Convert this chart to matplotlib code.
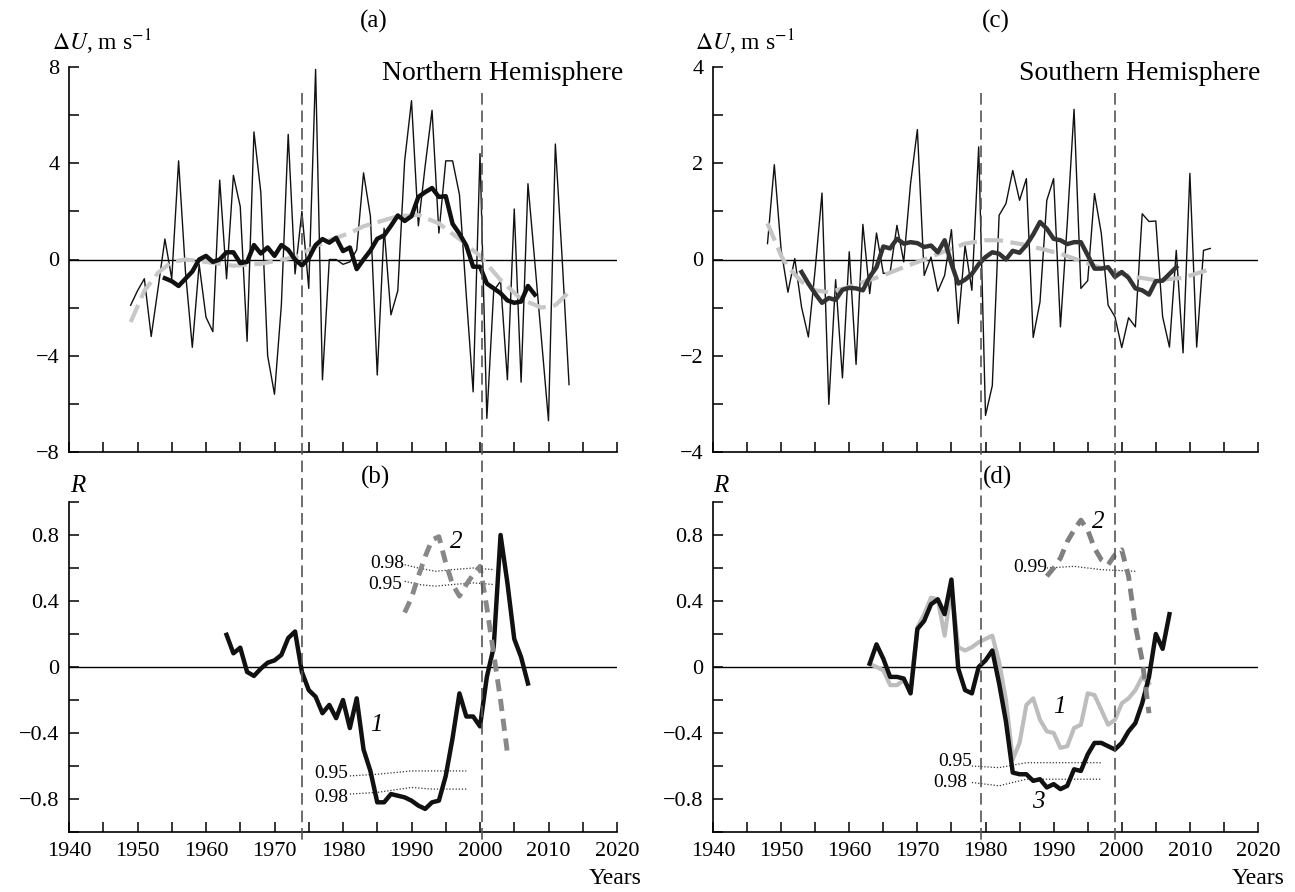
import numpy as np
import matplotlib
matplotlib.use("Agg")
import matplotlib.pyplot as plt
import matplotlib.transforms as mtransforms
from matplotlib.lines import Line2D
from matplotlib.ticker import MultipleLocator, FuncFormatter

plt.rcParams['font.family'] = ['Liberation Serif', 'DejaVu Serif']
plt.rcParams['mathtext.fontset'] = 'stix'

# ---- (a) Northern Hemisphere, dU (m/s)
nh_years = np.arange(1949, 2014)
nh_du = [-1.9, -1.3, -0.8, -3.2, -1.2, 0.85, -0.8, 4.1, -0.5, -3.65,
         -0.2, -2.4, -3.0, 3.3, -0.8, 3.5, 2.2, -3.4, 5.3, 2.8,
         -4.0, -5.6, -1.9, 5.2, -0.6, 2.0, -1.2, 7.9, -5.0, 0.0,
         0.0, -0.2, -0.1, 0.4, 3.6, 1.8, -4.8, 1.3, -2.3, -1.3,
         4.1, 6.6, 1.4, 3.9, 6.2, 1.1, 4.1, 4.1, 2.7, -1.5,
         -5.5, 4.4, -6.6, -1.3, -0.9, -5.0, 2.1, -5.1, 3.15, -0.1,
         -3.4, -6.7, 4.8, 0.0, -5.2]
nh_mean_years = np.arange(1954, 2009)
nh_mean = [-0.78, -0.9, -1.1, -0.8, -0.5, 0.0, 0.15, -0.1, 0.0, 0.3,
           0.3, -0.15, -0.1, 0.6, 0.25, 0.5, 0.15, 0.6, 0.4, 0.0,
           -0.25, 0.05, 0.6, 0.85, 0.7, 0.9, 0.35, 0.5, -0.4, 0.0,
           0.37, 0.86, 1.0, 1.4, 1.83, 1.6, 1.8, 2.6, 2.8, 2.97,
           2.6, 2.63, 1.48, 1.07, 0.58, -0.3, -0.3, -1.0, -1.2, -1.4,
           -1.7, -1.8, -1.75, -1.1, -1.46]
nh_fit_years = [1949, 1951, 1953, 1955, 1957, 1960, 1964, 1968, 1973, 1976,
                1978, 1981, 1983, 1988, 1991, 1994, 1997, 2000, 2003, 2006,
                2009, 2011, 2013]
nh_fit = [-2.6, -1.3, -0.55, -0.1, 0.0, -0.1, -0.26, -0.18, 0.1, 0.55,
          0.8, 1.1, 1.38, 1.8, 1.85, 1.5, 0.85, 0.15, -0.85, -1.65,
          -2.0, -1.9, -1.35]

# ---- (b) correlation R, NH
b_years1 = np.arange(1963, 2008)
b_r1 = [0.195, 0.083, 0.117, -0.03, -0.054, -0.01, 0.026, 0.04, 0.073, 0.175,
        0.215, -0.03, -0.14, -0.18, -0.28, -0.23, -0.31, -0.2, -0.37, -0.19,
        -0.5, -0.63, -0.82, -0.82, -0.77, -0.78, -0.79, -0.81, -0.84, -0.86,
        -0.82, -0.81, -0.66, -0.43, -0.16, -0.3, -0.3, -0.36, -0.06, 0.12,
        0.80, 0.51, 0.17, 0.06, -0.1]
b_years2 = np.arange(1989, 2005)
b_r2 = [0.33, 0.42, 0.55, 0.67, 0.77, 0.79, 0.63, 0.5, 0.43, 0.5,
        0.56, 0.61, 0.36, 0.08, -0.2, -0.52]
b_sig_up_years = [1989, 1991, 1993.5, 1996, 1999, 2002]
b_sig98_up = [0.62, 0.60, 0.58, 0.59, 0.60, 0.59]
b_sig95_up = [0.52, 0.50, 0.49, 0.50, 0.51, 0.50]
b_sig_lo_years = [1981, 1985, 1990, 1993, 1998]
b_sig95_lo = [-0.66, -0.65, -0.63, -0.63, -0.63]
b_sig98_lo = [-0.77, -0.76, -0.73, -0.74, -0.74]

# ---- (c) Southern Hemisphere, dU (m/s)
sh_years = np.arange(1948, 2014)
sh_du = [0.33, 1.97, 0.2, -0.68, 0.02, -0.99, -1.61, -0.2, 1.38, -3.01,
         -0.42, -2.46, 0.16, -2.18, 0.73, -0.71, 0.55, -0.29, -0.27, 0.71,
         -0.05, 1.58, 2.70, -0.33, 0.05, -0.66, -0.33, 0.62, -1.33, 0.29,
         -0.64, 2.34, -3.24, -2.62, 0.92, 1.16, 1.85, 1.23, 1.68, -1.62,
         -0.88, 1.23, 1.68, -1.4, 0.75, 3.12, -0.6, -0.44, 1.37, 0.54,
         -0.95, -1.19, -1.83, -1.21, -1.4, 0.95, 0.79, 0.80, -1.19, -1.82,
         0.19, -1.94, 1.79, -1.82, 0.19, 0.23]
sh_mean_years = np.arange(1953, 2009)
sh_mean = [-0.26, -0.5, -0.71, -0.9, -0.8, -0.84, -0.63, -0.59, -0.6, -0.64,
           -0.36, -0.16, 0.27, 0.23, 0.43, 0.33, 0.36, 0.34, 0.26, 0.29,
           0.15, 0.40, -0.09, -0.5, -0.42, -0.3, -0.1, 0.05, 0.15, 0.12,
           0.0, 0.18, 0.14, 0.30, 0.52, 0.78, 0.64, 0.43, 0.40, 0.32,
           0.36, 0.36, 0.09, -0.19, -0.19, -0.16, -0.36, -0.26, -0.38, -0.6,
           -0.64, -0.73, -0.45, -0.44, -0.3, -0.16]
sh_fit_years = [1948, 1950, 1951, 1953, 1955, 1957, 1960, 1962, 1965, 1968,
                1971, 1974, 1977, 1980, 1982, 1986, 1991, 1996, 2001, 2005,
                2009, 2013]
sh_fit = [0.75, 0.08, -0.16, -0.46, -0.64, -0.68, -0.57, -0.47, -0.33, -0.16,
          0.0, 0.17, 0.33, 0.40, 0.40, 0.30, 0.12, -0.13, -0.34, -0.43,
          -0.38, -0.2]

# ---- (d) correlation R, SH
d_years3 = np.arange(1963, 2008)
d_r3 = [0.02, 0.137, 0.05, -0.06, -0.06, -0.07, -0.16, 0.23, 0.28, 0.38,
        0.41, 0.32, 0.53, -0.01, -0.14, -0.16, 0.0, 0.04, 0.1, -0.1,
        -0.33, -0.64, -0.65, -0.65, -0.69, -0.68, -0.73, -0.71, -0.74, -0.72,
        -0.62, -0.63, -0.53, -0.46, -0.46, -0.48, -0.50, -0.46, -0.39, -0.34,
        -0.22, -0.06, 0.20, 0.11, 0.32]
d_years1 = np.arange(1963, 2005)
d_r1 = [0.02, 0.0, -0.02, -0.11, -0.11, -0.08, -0.14, 0.24, 0.32, 0.42,
        0.41, 0.19, 0.48, 0.12, 0.10, 0.12, 0.15, 0.17, 0.19, 0.03,
        -0.2, -0.56, -0.46, -0.23, -0.19, -0.32, -0.39, -0.4, -0.49, -0.48,
        -0.37, -0.35, -0.16, -0.17, -0.26, -0.35, -0.32, -0.22, -0.19, -0.14,
        -0.06, -0.1]
d_years2 = np.arange(1989, 2005)
d_r2 = [0.55, 0.60, 0.66, 0.76, 0.83, 0.89, 0.83, 0.72, 0.65, 0.62,
        0.68, 0.71, 0.55, 0.25, 0.04, -0.28]
d_sig99_years = [1989, 1993, 1997, 2002]
d_sig99 = [0.60, 0.61, 0.59, 0.58]
d_sig95_years = [1978, 1982, 1986, 1997]
d_sig95 = [-0.60, -0.61, -0.58, -0.58]
d_sig98_years = [1978, 1982, 1986, 1991, 1997]
d_sig98 = [-0.70, -0.72, -0.68, -0.68, -0.68]

W, H = 1295, 892
fig = plt.figure(figsize=(W / 100, H / 100), dpi=100)


def px_axes(x0, x1, ytop, ybot):
    return fig.add_axes([x0 / W, 1 - ybot / H, (x1 - x0) / W, (ybot - ytop) / H])


def fmt(v, pos):
    if abs(v) < 1e-9:
        return "0"
    return f"{v:g}".replace("-", "\u2212")


def style(ax, ylim, major, minor, xlabels):
    ax.set_xlim(1940, 2020)
    ax.set_ylim(*ylim)
    for s in ("top", "right"):
        ax.spines[s].set_visible(False)
    for s in ("left", "bottom"):
        ax.spines[s].set_linewidth(1.2)
    ax.xaxis.set_major_locator(MultipleLocator(10))
    ax.xaxis.set_minor_locator(MultipleLocator(5))
    ax.yaxis.set_major_locator(MultipleLocator(major))
    ax.yaxis.set_minor_locator(MultipleLocator(minor))
    ax.yaxis.set_major_formatter(FuncFormatter(fmt))
    ax.tick_params(which="both", direction="in", length=7, width=1.1,
                   labelsize=16, pad=7)
    if not xlabels:
        ax.tick_params(axis="x", labelbottom=False)
    ax.axhline(0, color="k", lw=1, zorder=1)


ax_a = px_axes(69, 617, 67, 452)
ax_b = px_axes(69, 617, 502, 832)
ax_c = px_axes(713, 1258, 67, 452)
ax_d = px_axes(713, 1258, 502, 832)

style(ax_a, (-8, 8), 4, 2, False)
style(ax_b, (-1, 1), 0.4, 0.2, True)
style(ax_c, (-4, 4), 2, 1, False)
style(ax_d, (-1, 1), 0.4, 0.2, True)

# (a)
ax_a.plot(nh_years, nh_du, color="#111111", lw=1.0, zorder=2)
ax_a.plot(nh_fit_years, nh_fit, color="#c8c8c8", lw=3, dashes=(4.5, 1.8), zorder=3)
ax_a.plot(nh_mean_years, nh_mean, color="#111111", lw=3.2, zorder=4)

# (c)
ax_c.plot(sh_years, sh_du, color="#111111", lw=1.0, zorder=2)
ax_c.plot(sh_fit_years, sh_fit, color="#c4c4c4", lw=3, dashes=(4.5, 1.8), zorder=3)
ax_c.plot(sh_mean_years, sh_mean, color="#333333", lw=3.2, zorder=4)

# (b)
dot = dict(color="#333333", lw=0.9, linestyle=(0, (1, 1.5)), zorder=2)
ax_b.plot(b_sig_up_years, b_sig98_up, **dot)
ax_b.plot(b_sig_up_years, b_sig95_up, **dot)
ax_b.plot(b_sig_lo_years, b_sig95_lo, **dot)
ax_b.plot(b_sig_lo_years, b_sig98_lo, **dot)
ax_b.plot(b_years1, b_r1, color="#111111", lw=3.2, zorder=4)
ax_b.plot(b_years2, b_r2, color="#888888", lw=3.5, dashes=(2.5, 1.6), zorder=5)
ax_b.text(1989.0, 0.63, "0.98", ha="right", va="center", fontsize=14)
ax_b.text(1988.6, 0.50, "0.95", ha="right", va="center", fontsize=14)
ax_b.text(1980.7, -0.645, "0.95", ha="right", va="center", fontsize=14)
ax_b.text(1980.7, -0.79, "0.98", ha="right", va="center", fontsize=14)
ax_b.text(1984.9, -0.35, "1", style="italic", ha="center", va="center", fontsize=18)
ax_b.text(1996.6, 0.76, "2", style="italic", ha="center", va="center", fontsize=18)

# (d)
ax_d.plot(d_sig99_years, d_sig99, **dot)
ax_d.plot(d_sig95_years, d_sig95, **dot)
ax_d.plot(d_sig98_years, d_sig98, **dot)
ax_d.plot(d_years1, d_r1, color="#bdbdbd", lw=3, zorder=3)
ax_d.plot(d_years3, d_r3, color="#111111", lw=3.2, zorder=4)
ax_d.plot(d_years2, d_r2, color="#808080", lw=3.5, dashes=(2.5, 1.6), zorder=5)
ax_d.text(1989.0, 0.60, "0.99", ha="right", va="center", fontsize=14)
ax_d.text(1978.0, -0.57, "0.95", ha="right", va="center", fontsize=14)
ax_d.text(1977.3, -0.70, "0.98", ha="right", va="center", fontsize=14)
ax_d.text(1990.9, -0.24, "1", style="italic", ha="center", va="center", fontsize=18)
ax_d.text(1996.5, 0.88, "2", style="italic", ha="center", va="center", fontsize=18)
ax_d.text(1987.7, -0.82, "3", style="italic", ha="center", va="center", fontsize=18)

# vertical dashed markers crossing both panels
for ax, yr in ((ax_b, 1974.0), (ax_b, 2000.3), (ax_d, 1979.3), (ax_d, 1999.0)):
    tr = mtransforms.blended_transform_factory(ax.transData, fig.transFigure)
    fig.add_artist(Line2D([yr, yr], [1 - 93 / H, 1 - 842 / H], transform=tr,
                          color="#555555", lw=1.2, dashes=(7, 3.5)))


def ftext(x, y, s, **kw):
    fig.text(x / W, 1 - y / H, s, **kw)


ftext(374, 21, "(a)", ha="center", va="center", fontsize=18)
ftext(996, 21, "(c)", ha="center", va="center", fontsize=18)
ftext(376, 477, "(b)", ha="center", va="center", fontsize=18)
ftext(997, 477, "(d)", ha="center", va="center", fontsize=18)
ftext(52, 42, r"$\Delta U$, m s$^{-1}$", ha="left", va="center", fontsize=17)
ftext(695, 42, r"$\Delta U$, m s$^{-1}$", ha="left", va="center", fontsize=17)
ftext(623, 73, "Northern Hemisphere", ha="right", va="center", fontsize=20)
ftext(1260, 73, "Southern Hemisphere", ha="right", va="center", fontsize=20)
ftext(78, 486, "R", style="italic", ha="center", va="center", fontsize=18)
ftext(721, 486, "R", style="italic", ha="center", va="center", fontsize=18)
ftext(615, 879, "Years", ha="center", va="center", fontsize=17)
ftext(1258, 879, "Years", ha="center", va="center", fontsize=17)

fig.savefig("out.png", dpi=100)
